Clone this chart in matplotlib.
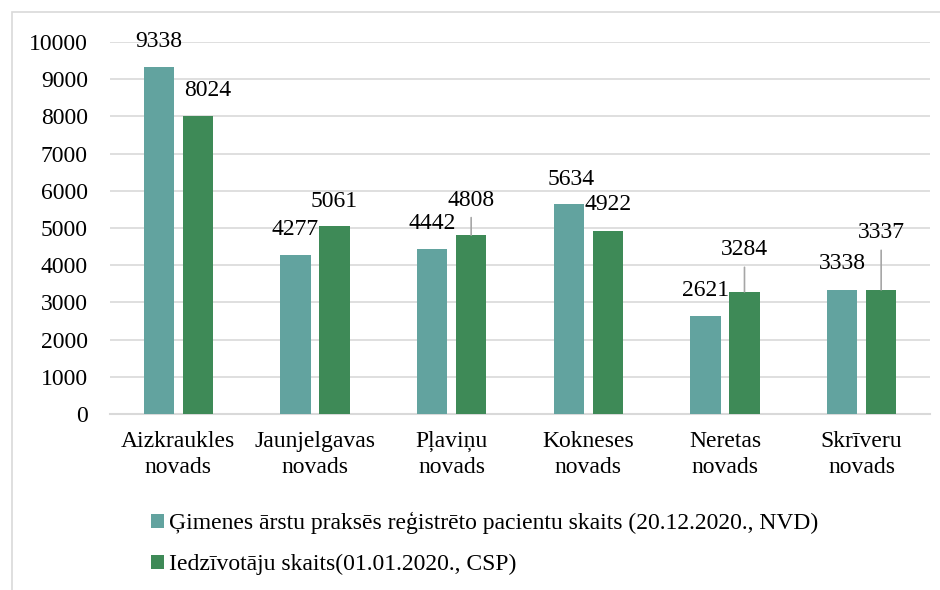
import matplotlib
matplotlib.use("Agg")
import matplotlib.pyplot as plt
from matplotlib.patches import Rectangle
import numpy as np

categories = ["Aizkraukles\nnovads", "Jaunjelgavas\nnovads", "Pļaviņu\nnovads",
              "Kokneses\nnovads", "Neretas\nnovads", "Skrīveru\nnovads"]
series_names = ["Ģimenes ārstu praksēs reģistrēto pacientu skaits (20.12.2020., NVD)",
                "Iedzīvotāju skaits(01.01.2020., CSP)"]
patients = [9338, 4277, 4442, 5634, 2621, 3338]
residents = [8024, 5061, 4808, 4922, 3284, 3337]
yticks = [0, 1000, 2000, 3000, 4000, 5000, 6000, 7000, 8000, 9000, 10000]

# label offsets in pixels (dx, dy) relative to bar top center; leader flag
pat_offsets = [(0, 25, False), (0, 25, False), (0, 25, False), (2, 25, False), (0, 26, False), (0, 26, False)]
res_offsets = [(10, 25, False), (0, 24, False), (0, 35, True), (0, 26, False), (0, 42, True), (0, 57, True)]

teal = "#62A39F"
green = "#3E8A57"
grid_c = "#D9D9D9"

plt.rcParams['font.family'] = ['Liberation Serif', 'DejaVu Serif']
FS = 17

fig = plt.figure(figsize=(9.4, 5.9), dpi=100)
W, H = 940, 590
ax = fig.add_axes([110 / W, (H - 414) / H, 820 / W, 372 / H])

x = np.arange(len(categories))
bw = 0.22
off = 0.1426
b1 = ax.bar(x - off, patients, bw, color=teal, label=series_names[0], zorder=3)
b2 = ax.bar(x + off, residents, bw, color=green, label=series_names[1], zorder=3)

ax.set_xlim(-0.5, len(categories) - 0.5)
ax.set_ylim(0, 10000)
ax.set_yticks(yticks)
ax.set_yticklabels([str(t) for t in yticks], fontsize=FS)
ax.set_xticks(x)
ax.set_xticklabels(categories, fontsize=FS, linespacing=1.34)
ax.tick_params(axis='y', length=0, pad=16)
ax.tick_params(axis='x', length=0, pad=12)
ax.grid(axis='y', color=grid_c, linewidth=1.2, zorder=0)
for s in ['top', 'right', 'left']:
    ax.spines[s].set_visible(False)
ax.spines['bottom'].set_color(grid_c)
ax.spines['bottom'].set_linewidth(1.5)

def label(xc, val, dx, dy, leader):
    kw = dict(xy=(xc, val), xytext=(dx, dy), textcoords='offset pixels',
              ha='center', va='center', fontsize=FS, zorder=5, annotation_clip=False)
    if leader:
        kw['arrowprops'] = dict(arrowstyle='-', color='#A6A6A6', lw=1.2,
                                shrinkA=3, shrinkB=0, relpos=(0.5, 0.0))
    ax.annotate(str(val), **kw)

for i in range(len(categories)):
    dx, dy, ld = pat_offsets[i]
    label(x[i] - off, patients[i], dx, dy, ld)
    dx, dy, ld = res_offsets[i]
    label(x[i] + off, residents[i], dx, dy, ld)

fig.legend(handles=[b1, b2], labels=series_names, loc='upper left',
           bbox_to_anchor=(151 / W, (H - 512) / H), frameon=False, fontsize=FS,
           handlelength=0.55, handleheight=0.55, handletextpad=0.2,
           labelspacing=0.84, borderpad=0, borderaxespad=0)

fig.patches.append(Rectangle((12 / W, -0.1), 1.2, (H - 12) / H + 0.1,
                             transform=fig.transFigure, fill=False,
                             edgecolor=grid_c, linewidth=1.2))

fig.savefig("out.png", dpi=100)
